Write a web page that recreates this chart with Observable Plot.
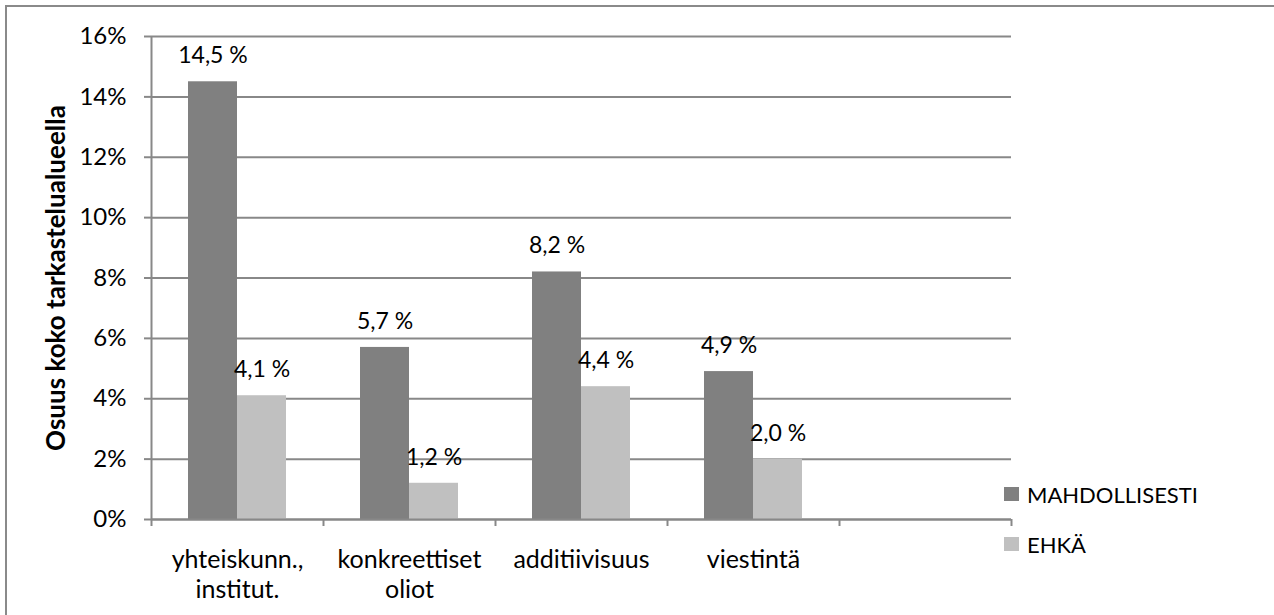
<!DOCTYPE html>
<html>
<head>
<meta charset="utf-8">
<script src="https://cdn.jsdelivr.net/npm/d3@7"></script>
<script src="https://cdn.jsdelivr.net/npm/@observablehq/plot@0.6"></script>
<style>
  html, body { margin: 0; padding: 0; background: #fff; overflow: hidden; }
  #wrap { position: relative; width: 1274px; height: 615px; font-family: Lato, "Open Sans", sans-serif; }
  #border { position: absolute; left: 5px; top: 5px; width: 1300px; height: 700px; border-left: 2px solid #8a8a8a; border-top: 2px solid #8a8a8a; box-sizing: border-box; }
  #chart { position: absolute; left: 0; top: 0; }
  .leg { position: absolute; display: flex; align-items: center; font-size: 22px; color: #000; }
  .leg .sw { width: 15px; height: 14px; margin-right: 8px; }
</style>
</head>
<body>
<div id="wrap"><div id="border"></div><div id="chart"></div></div>
<script>
const categories = ["yhteiskunn.,\ninstitut.", "konkreettiset\noliot", "additiivisuus", "viestintä", ""];
const series = ["MAHDOLLISESTI", "EHKÄ"];
const colors = ["#808080", "#c0c0c0"];
const mahdollisesti = [14.5, 5.7, 8.2, 4.9];
const ehka = [4.1, 1.2, 4.4, 2.0];
const yTicks = [0, 2, 4, 6, 8, 10, 12, 14, 16];
const yLabel = "Osuus koko tarkastelualueella";

const W = 1274, H = 615;
const mL = 151, mR = 263, mT = 36, mB = 96;
const band = (W - mL - mR) / categories.length;
const half = band / 2;
const barW = 49;
const outer = half - barW;

const rows = [];
mahdollisesti.forEach((v, i) => rows.push({cat: categories[i], series: series[0], value: v}));
ehka.forEach((v, i) => rows.push({cat: categories[i], series: series[1], value: v}));
const dark = rows.filter(d => d.series === series[0]);
const light = rows.filter(d => d.series === series[1]);
const fmt = v => v.toFixed(1).replace(".", ",") + " %";

const gridColor = "#888888";
const font = "Lato, 'Open Sans', sans-serif";

const plot = Plot.plot({
  width: W, height: H,
  marginLeft: mL, marginRight: mR, marginTop: mT, marginBottom: mB,
  style: {fontFamily: font, fontSize: "22px", color: "#000", background: "transparent"},
  x: {domain: categories, padding: 0, axis: null},
  y: {domain: [0, 16], axis: null},
  color: {domain: series, range: colors},
  marks: [
    Plot.gridY(yTicks, {stroke: gridColor, strokeOpacity: 1, strokeWidth: 2}),
    Plot.barY(dark, {x: "cat", y: "value", fill: "series", insetLeft: outer, insetRight: half}),
    Plot.barY(light, {x: "cat", y: "value", fill: "series", insetLeft: half, insetRight: outer}),
    Plot.ruleY([0], {stroke: gridColor, strokeWidth: 2}),
    Plot.ruleX([categories[0]], {dx: -half, y1: 0, y2: 16, stroke: gridColor, strokeWidth: 2}),
    Plot.ruleX(categories, {dx: -half, y1: 0, y2: 0, insetBottom: -7, stroke: gridColor, strokeWidth: 2}),
    Plot.ruleX([categories[categories.length - 1]], {dx: half, y1: 0, y2: 0, insetBottom: -7, stroke: gridColor, strokeWidth: 2}),
    Plot.axisY({ticks: yTicks, tickFormat: d => d + "%", tickSize: 7, tickPadding: 18, stroke: gridColor, strokeWidth: 2, strokeOpacity: 1, fontSize: 24, label: null}),
    Plot.axisX({tickSize: 0, tickPadding: 27, fontSize: 25, lineHeight: 1.2, label: null}),
    Plot.text(dark, {x: "cat", y: "value", text: d => fmt(d.value), dx: -barW / 2, dy: -26, lineAnchor: "middle", fontSize: 23, fill: "#000"}),
    Plot.text(light, {x: "cat", y: "value", text: d => fmt(d.value), dx: barW / 2, dy: -26, lineAnchor: "middle", fontSize: 23, fill: "#000"}),
    Plot.text([yLabel], {frameAnchor: "left", rotate: -90, textAnchor: "middle", dx: -95, fontWeight: "bold", fontSize: 26, fill: "#000"})
  ]
});
document.getElementById("chart").appendChild(plot);

const wrap = document.getElementById("wrap");
const legendTops = [494, 544];
series.forEach((s, i) => {
  const el = document.createElement("div");
  el.className = "leg";
  el.style.left = "1004px";
  el.style.top = (legendTops[i] - 14) + "px";
  el.style.height = "28px";
  el.innerHTML = `<span class="sw" style="background:${colors[i]}"></span><span>${s}</span>`;
  wrap.appendChild(el);
});
</script>
</body>
</html>
